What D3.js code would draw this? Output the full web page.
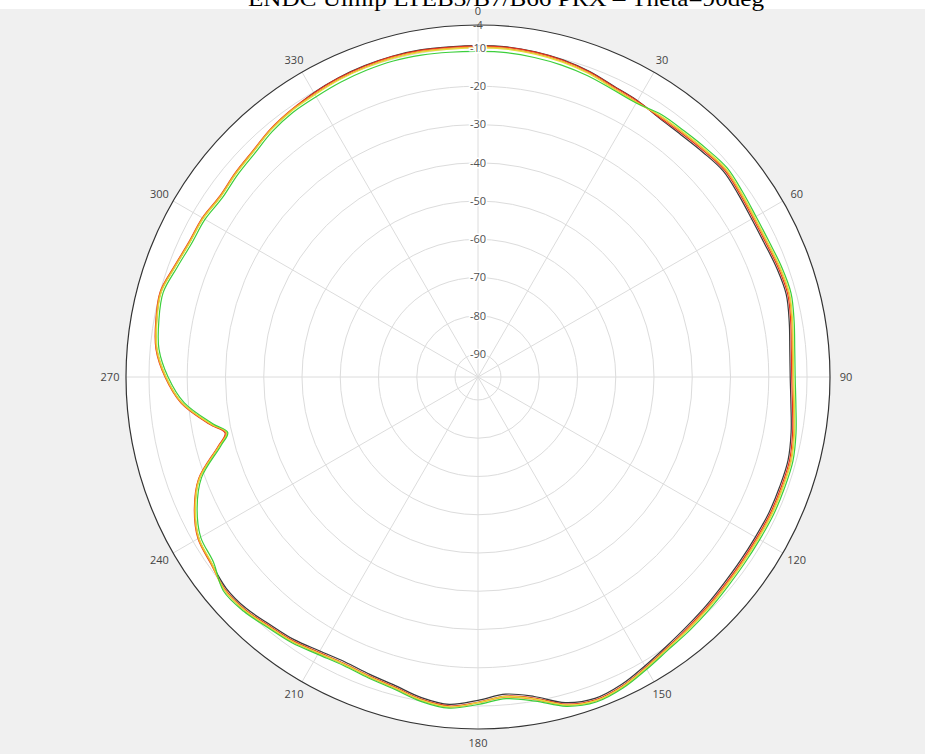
<!DOCTYPE html>
<html><head><meta charset="utf-8">
<script src="https://cdn.jsdelivr.net/npm/d3@7/dist/d3.min.js"></script>
<style>body{margin:0;background:#fff}svg{display:block}</style>
</head><body>
<svg id="chart" width="925" height="754"></svg>
<script>
const title = "ENDC Ulmip LTEB3/B7/B66 PRX – Theta=90deg";
const angles = [0,5,10,15,20,25,30,35,40,45,50,55,60,65,70,75,80,85,90,95,100,105,110,115,120,125,130,135,140,145,150,155,160,165,170,175,180,185,190,195,200,205,210,215,220,225,230,235,240,245,250,255,257.5,260,265,270,275,280,285,290,295,300,305,310,315,320,325,330,335,340,345,350,355];
const angleTicks = [0,30,60,90,120,150,180,210,240,270,300,330];
const ringTicks = [-90,-80,-70,-60,-50,-40,-30,-20,-10];
const outerValue = -4;
const centerValue = -96;
const seriesNames = ["dark","red","orange","yellow","green"];
const seriesColors = ["#3a3a3a","#e8321e","#f39a2c","#e6dc3a","#3ccf3c"];
const darkVals = [-9.4,-9.4,-9.7,-10.2,-11.0,-12.1,-12.6,-13.4,-13.4,-12.9,-12.3,-12.9,-13.4,-13.4,-12.9,-12.6,-13.4,-14.2,-14.4,-13.9,-12.9,-12.1,-12.1,-12.1,-12.3,-12.3,-12.1,-11.6,-11.0,-10.1,-8.8,-7.3,-6.6,-7.9,-11.2,-12.8,-11.5,-10.1,-10.9,-12.5,-13.3,-13.8,-13.3,-12.2,-11.5,-10.4,-10.1,-11.0,-11.7,-14.4,-18.5,-25.9,-28.6,-25.0,-18.3,-14.4,-11.7,-10.7,-10.2,-11.7,-12.8,-13.0,-13.8,-13.3,-12.8,-11.7,-11.0,-10.2,-9.7,-9.4,-9.2,-9.2,-9.4];
const redVals = [-9.5,-9.5,-9.8,-10.3,-11.1,-12.2,-12.7,-13.2,-13.0,-12.5,-11.9,-12.5,-13.0,-13.0,-12.5,-12.2,-13.0,-13.8,-14.0,-13.5,-12.5,-11.7,-11.7,-11.7,-11.9,-11.9,-11.7,-11.2,-10.6,-9.7,-8.4,-6.9,-6.2,-7.5,-10.8,-12.3,-11.0,-9.7,-10.5,-12.1,-12.9,-13.4,-12.9,-11.8,-11.1,-10.0,-9.7,-10.8,-11.5,-14.2,-18.3,-25.6,-28.3,-24.8,-18.1,-14.2,-11.5,-10.5,-10.0,-11.5,-12.6,-12.8,-13.6,-13.1,-12.6,-11.5,-10.8,-10.3,-9.8,-9.5,-9.3,-9.3,-9.5];
const orangeVals = [-9.8,-9.8,-10.1,-10.6,-11.4,-12.5,-13.0,-12.9,-12.7,-12.2,-11.6,-12.2,-12.7,-12.7,-12.2,-11.9,-12.7,-13.5,-13.7,-13.2,-12.2,-11.4,-11.4,-11.4,-11.6,-11.6,-11.4,-10.9,-10.3,-9.4,-8.1,-6.6,-5.9,-7.2,-10.4,-12.0,-10.8,-9.4,-10.2,-11.8,-12.6,-13.1,-12.6,-11.5,-10.8,-9.7,-9.4,-10.9,-11.6,-14.3,-18.4,-25.8,-28.6,-25.0,-18.2,-14.3,-11.6,-10.6,-10.1,-11.6,-12.7,-12.9,-13.7,-13.2,-12.7,-11.6,-10.9,-10.6,-10.1,-9.8,-9.6,-9.6,-9.8];
const yellowVals = [-10.0,-10.0,-10.3,-10.8,-11.6,-12.7,-13.2,-12.7,-12.5,-12.0,-11.4,-12.0,-12.5,-12.5,-12.0,-11.7,-12.5,-13.3,-13.5,-13.0,-12.0,-11.2,-11.2,-11.2,-11.4,-11.4,-11.2,-10.7,-10.1,-9.5,-8.2,-6.7,-6.0,-7.3,-10.6,-12.2,-10.9,-9.5,-10.3,-11.9,-12.7,-13.2,-12.7,-11.6,-10.9,-9.8,-9.5,-11.1,-11.8,-14.5,-18.6,-26.0,-28.8,-25.2,-18.4,-14.5,-11.8,-10.8,-10.3,-11.8,-12.9,-13.1,-13.9,-13.4,-12.9,-11.8,-11.1,-10.8,-10.3,-10.0,-9.8,-9.8,-10.0];
const greenVals = [-10.9,-10.9,-11.2,-11.6,-12.2,-13.0,-13.3,-12.3,-12.1,-11.6,-11.0,-11.6,-12.1,-12.1,-11.6,-11.3,-12.1,-12.9,-13.1,-12.6,-11.6,-10.8,-10.8,-10.8,-11.0,-11.0,-10.8,-10.3,-9.7,-9.1,-7.8,-6.3,-5.6,-6.9,-10.0,-11.6,-10.4,-9.1,-9.9,-11.5,-12.3,-12.8,-12.3,-11.2,-10.5,-9.4,-9.1,-11.6,-12.3,-15.0,-19.1,-26.4,-29.0,-25.6,-18.9,-15.0,-12.3,-11.3,-10.8,-12.3,-13.4,-13.6,-14.4,-13.9,-13.4,-12.3,-11.6,-11.4,-11.0,-10.7,-10.5,-10.6,-10.8];
const seriesValues = [darkVals, redVals, orangeVals, yellowVals, greenVals];

const svg = d3.select("#chart");
const W = 925, H = 754;
const cx = 478, cy = 377, R = 352;

svg.append("rect").attr("x",0).attr("y",0).attr("width",W).attr("height",H).attr("fill","#ffffff");
svg.append("rect").attr("x",0).attr("y",9).attr("width",W).attr("height",H-9).attr("fill","#f0f0f0");

const r = d3.scaleLinear().domain([centerValue, outerValue]).range([0, R]);
const a = d3.scaleLinear().domain([0, 360]).range([0, 2*Math.PI]);

const g = svg.append("g").attr("transform", `translate(${cx},${cy})`);

g.append("circle").attr("r", r(outerValue)).attr("fill", "#ffffff");

g.selectAll("circle.ring").data(ringTicks).join("circle")
  .attr("class","ring").attr("r", d => r(d))
  .attr("fill","none").attr("stroke","#dcdcdc").attr("stroke-width",1);

g.selectAll("line.spoke").data(angleTicks).join("line")
  .attr("class","spoke")
  .attr("x1",0).attr("y1",0)
  .attr("x2", d => r(outerValue)*Math.sin(a(d)))
  .attr("y2", d => -r(outerValue)*Math.cos(a(d)))
  .attr("stroke","#dcdcdc").attr("stroke-width",1);

const line = d3.lineRadial()
  .angle((d,i) => a(angles[i]))
  .radius(d => r(d))
  .curve(d3.curveCatmullRomClosed.alpha(0.5));

g.selectAll("path.series").data(seriesValues).join("path")
  .attr("class","series")
  .attr("d", d => line(d))
  .attr("fill","none")
  .attr("stroke",(d,i) => seriesColors[i])
  .attr("stroke-width",1.2);

g.selectAll("text.ringlab").data(ringTicks).join("text")
  .attr("class","ringlab")
  .attr("x",0).attr("y", d => -r(d))
  .attr("dy","0.35em")
  .attr("text-anchor","middle")
  .attr("font-family","'Open Sans', 'DejaVu Sans', sans-serif")
  .attr("font-size",11)
  .attr("fill","#505050")
  .attr("stroke","#ffffff").attr("stroke-width",3).attr("paint-order","stroke")
  .text(d => d);

g.append("circle").attr("r", r(outerValue)).attr("fill","none")
  .attr("stroke","#333").attr("stroke-width",1.2);

g.append("text")
  .attr("x",0).attr("y", -r(outerValue))
  .attr("dy","0.35em")
  .attr("text-anchor","middle")
  .attr("font-family","'Open Sans', 'DejaVu Sans', sans-serif")
  .attr("font-size",11).attr("fill","#505050")
  .text(outerValue);

g.selectAll("text.anglab").data(angleTicks).join("text")
  .attr("class","anglab")
  .attr("x", d => (R+16)*Math.sin(a(d)))
  .attr("y", d => -(R+14)*Math.cos(a(d)))
  .attr("dy","0.35em")
  .attr("text-anchor","middle")
  .attr("font-family","'Open Sans', 'DejaVu Sans', sans-serif")
  .attr("font-size",11).attr("fill","#444")
  .text(d => d);

svg.append("text")
  .attr("x",506).attr("y",6)
  .attr("text-anchor","middle")
  .attr("font-family","'Liberation Serif', 'Times New Roman', serif")
  .attr("font-size",22).attr("fill","#000")
  .attr("textLength",516).attr("lengthAdjust","spacingAndGlyphs")
  .text(title);
</script>
</body></html>
